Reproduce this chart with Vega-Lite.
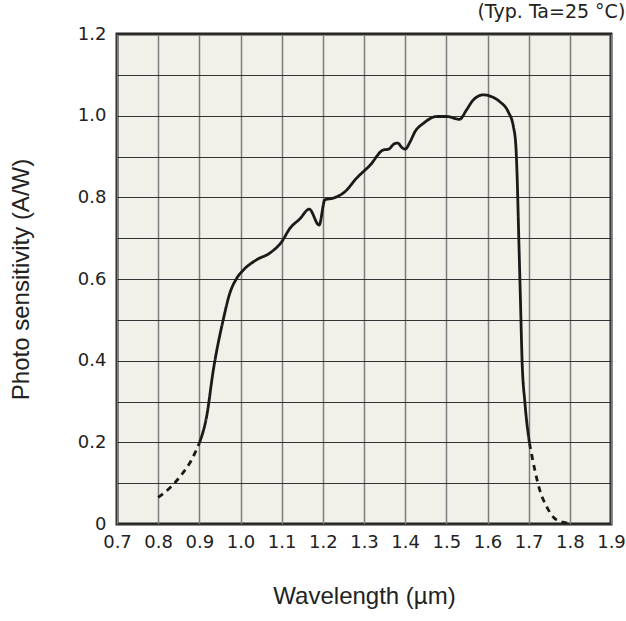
{
  "$schema": "https://vega.github.io/schema/vega-lite/v6.json",
  "width": 494,
  "height": 490,
  "autosize": {"type": "none"},
  "padding": {"left": 117, "top": 34, "right": 15, "bottom": 97},
  "background": "white",
  "title": {
    "text": "(Typ. Ta=25 °C)",
    "anchor": "end",
    "font": "DejaVu Sans",
    "fontSize": 19,
    "fontWeight": "normal",
    "color": "#222",
    "offset": 3
  },
  "config": {
    "view": {"fill": "#f2f1e9", "stroke": "#222", "strokeWidth": 3}
  },
  "data": {
    "values": [
      {"wl": 0.800, "s": 0.065, "seg": "left", "kind": "dashed"},
      {"wl": 0.830, "s": 0.090, "seg": "left", "kind": "dashed"},
      {"wl": 0.860, "s": 0.125, "seg": "left", "kind": "dashed"},
      {"wl": 0.880, "s": 0.155, "seg": "left", "kind": "dashed"},
      {"wl": 0.900, "s": 0.198, "seg": "left", "kind": "dashed"},
      {"wl": 0.900, "s": 0.198, "seg": "main", "kind": "solid"},
      {"wl": 0.918, "s": 0.265, "seg": "main", "kind": "solid"},
      {"wl": 0.934, "s": 0.377, "seg": "main", "kind": "solid"},
      {"wl": 0.958, "s": 0.500, "seg": "main", "kind": "solid"},
      {"wl": 0.974, "s": 0.565, "seg": "main", "kind": "solid"},
      {"wl": 0.991, "s": 0.602, "seg": "main", "kind": "solid"},
      {"wl": 1.007, "s": 0.622, "seg": "main", "kind": "solid"},
      {"wl": 1.039, "s": 0.647, "seg": "main", "kind": "solid"},
      {"wl": 1.072, "s": 0.664, "seg": "main", "kind": "solid"},
      {"wl": 1.100, "s": 0.691, "seg": "main", "kind": "solid"},
      {"wl": 1.120, "s": 0.724, "seg": "main", "kind": "solid"},
      {"wl": 1.144, "s": 0.747, "seg": "main", "kind": "solid"},
      {"wl": 1.167, "s": 0.771, "seg": "main", "kind": "solid"},
      {"wl": 1.191, "s": 0.732, "seg": "main", "kind": "solid"},
      {"wl": 1.205, "s": 0.794, "seg": "main", "kind": "solid"},
      {"wl": 1.225, "s": 0.798, "seg": "main", "kind": "solid"},
      {"wl": 1.254, "s": 0.814, "seg": "main", "kind": "solid"},
      {"wl": 1.282, "s": 0.847, "seg": "main", "kind": "solid"},
      {"wl": 1.315, "s": 0.879, "seg": "main", "kind": "solid"},
      {"wl": 1.347, "s": 0.916, "seg": "main", "kind": "solid"},
      {"wl": 1.360, "s": 0.918, "seg": "main", "kind": "solid"},
      {"wl": 1.372, "s": 0.930, "seg": "main", "kind": "solid"},
      {"wl": 1.382, "s": 0.933, "seg": "main", "kind": "solid"},
      {"wl": 1.392, "s": 0.922, "seg": "main", "kind": "solid"},
      {"wl": 1.400, "s": 0.918, "seg": "main", "kind": "solid"},
      {"wl": 1.412, "s": 0.936, "seg": "main", "kind": "solid"},
      {"wl": 1.424, "s": 0.961, "seg": "main", "kind": "solid"},
      {"wl": 1.444, "s": 0.981, "seg": "main", "kind": "solid"},
      {"wl": 1.477, "s": 0.998, "seg": "main", "kind": "solid"},
      {"wl": 1.501, "s": 0.998, "seg": "main", "kind": "solid"},
      {"wl": 1.532, "s": 0.991, "seg": "main", "kind": "solid"},
      {"wl": 1.549, "s": 1.014, "seg": "main", "kind": "solid"},
      {"wl": 1.565, "s": 1.038, "seg": "main", "kind": "solid"},
      {"wl": 1.590, "s": 1.051, "seg": "main", "kind": "solid"},
      {"wl": 1.606, "s": 1.048, "seg": "main", "kind": "solid"},
      {"wl": 1.630, "s": 1.034, "seg": "main", "kind": "solid"},
      {"wl": 1.650, "s": 1.010, "seg": "main", "kind": "solid"},
      {"wl": 1.663, "s": 0.973, "seg": "main", "kind": "solid"},
      {"wl": 1.669, "s": 0.924, "seg": "main", "kind": "solid"},
      {"wl": 1.672, "s": 0.850, "seg": "main", "kind": "solid"},
      {"wl": 1.676, "s": 0.700, "seg": "main", "kind": "solid"},
      {"wl": 1.680, "s": 0.550, "seg": "main", "kind": "solid"},
      {"wl": 1.684, "s": 0.400, "seg": "main", "kind": "solid"},
      {"wl": 1.691, "s": 0.296, "seg": "main", "kind": "solid"},
      {"wl": 1.702, "s": 0.198, "seg": "main", "kind": "solid"},
      {"wl": 1.702, "s": 0.198, "seg": "right", "kind": "dashed"},
      {"wl": 1.715, "s": 0.132, "seg": "right", "kind": "dashed"},
      {"wl": 1.727, "s": 0.083, "seg": "right", "kind": "dashed"},
      {"wl": 1.744, "s": 0.042, "seg": "right", "kind": "dashed"},
      {"wl": 1.768, "s": 0.010, "seg": "right", "kind": "dashed"},
      {"wl": 1.795, "s": 0.002, "seg": "right", "kind": "dashed"}
    ]
  },
  "mark": {"type": "line", "color": "#1a1a1a", "strokeWidth": 2.8, "clip": false, "interpolate": "monotone"},
  "encoding": {
    "x": {
      "field": "wl",
      "type": "quantitative",
      "scale": {"domain": [0.7, 1.9], "nice": false, "zero": false},
      "axis": {
        "title": "Wavelength (µm)",
        "values": [0.7, 0.8, 0.9, 1.0, 1.1, 1.2, 1.3, 1.4, 1.5, 1.6, 1.7, 1.8, 1.9],
        "format": ".1f",
        "labelFlush": false,
        "labelOverlap": false,
        "labelFont": "DejaVu Sans",
        "labelFontSize": 18,
        "labelColor": "#222",
        "labelPadding": 9,
        "ticks": false,
        "domain": false,
        "grid": true,
        "gridColor": "#7d7d7d",
        "gridWidth": 1.5,
        "gridOpacity": 1,
        "titleFont": "Liberation Sans",
        "titleFontSize": 24,
        "titleFontWeight": "normal",
        "titleColor": "#222",
        "titlePadding": 33
      }
    },
    "y": {
      "field": "s",
      "type": "quantitative",
      "scale": {"domain": [0, 1.2], "nice": false},
      "axis": {
        "title": "Photo sensitivity (A/W)",
        "values": [0, 0.1, 0.2, 0.3, 0.4, 0.5, 0.6, 0.7, 0.8, 0.9, 1.0, 1.1, 1.2],
        "labelExpr": "datum.value == 0 ? '0' : (round(datum.value * 10) % 2 == 0 ? format(datum.value, '.1f') : '')",
        "labelFlush": false,
        "labelOverlap": false,
        "labelFont": "DejaVu Sans",
        "labelFontSize": 18,
        "labelColor": "#222",
        "labelPadding": 11,
        "ticks": false,
        "domain": false,
        "grid": true,
        "gridColor": "#333333",
        "gridWidth": 1.2,
        "gridOpacity": 1,
        "titleFont": "Liberation Sans",
        "titleFontSize": 24,
        "titleFontWeight": "normal",
        "titleColor": "#222",
        "titlePadding": 44
      }
    },
    "detail": {"field": "seg"},
    "strokeDash": {
      "field": "kind",
      "type": "nominal",
      "scale": {"domain": ["solid", "dashed"], "range": [[1, 0], [6, 5]]},
      "legend": null
    }
  }
}
